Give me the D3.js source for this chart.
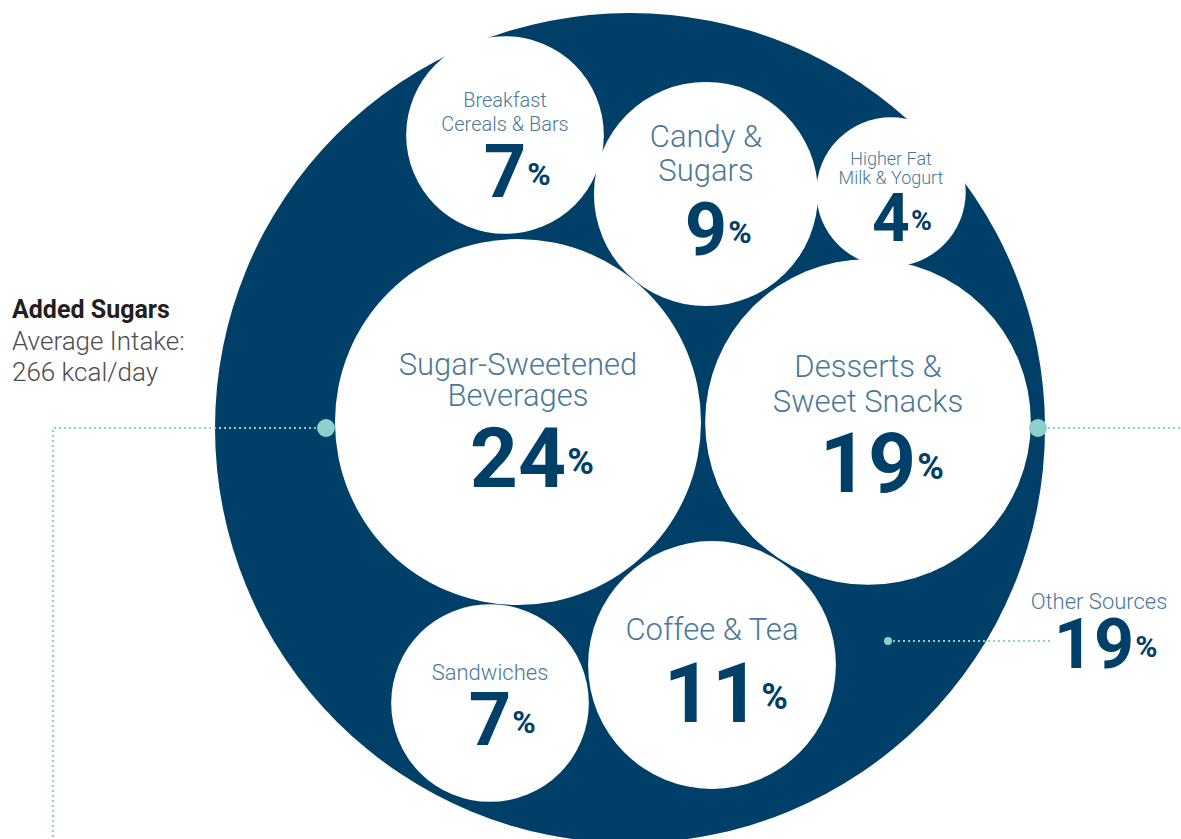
<!DOCTYPE html>
<html>
<head>
<meta charset="utf-8">
<script src="https://cdn.jsdelivr.net/npm/d3@7"></script>
<style>
  body { margin: 0; background: #fff; }
  text { font-family: Roboto, "Noto Sans", sans-serif; }
</style>
</head>
<body>
<svg></svg>
<script>
var categories = ['Sugar-Sweetened\nBeverages', 'Desserts &\nSweet Snacks', 'Coffee & Tea',
    'Candy &\nSugars', 'Breakfast\nCereals & Bars', 'Sandwiches', 'Higher Fat\nMilk & Yogurt'];
var shares = [24, 19, 11, 9, 7, 7, 4];
var otherShare = 19;
var intakeKcal = 266;

// hand placed bubble layout + text placement per bubble
var centers = [[518, 422], [868, 422], [712, 665], [706, 194], [505, 135], [490, 703], [891, 192]];
var labelSizes = [31, 31, 31, 31, 20, 22, 18];
var lineGaps = [31, 35, 0, 34, 24, 0, 19];
var labelDy = [-47, -45, -25, -47, -28, -23, -27];
var numSizes = [84, 84, 84, 74, 74, 74, 66];
var numDy = [65, 70, 57, 61, 62, 42, 49];

var W = 1181, H = 839;
var navy = '#004068', labelCol = '#4b7899', teal = '#8ecfcb';

var svg = d3.select('svg')
    .attr('width', W)
    .attr('height', H);

var r = d3.scaleSqrt().domain([0, 24]).range([0, 183]);

// big circle
svg.append('circle')
    .attr('cx', 630)
    .attr('cy', 428)
    .attr('r', 415)
    .attr('fill', navy);

svg.selectAll('circle.bubble')
    .data(shares)
    .enter().append('circle')
    .classed('bubble', true)
    .attr('cx', function(d, i) { return centers[i][0]; })
    .attr('cy', function(d, i) { return centers[i][1]; })
    .attr('r', function(d) { return r(d); })
    .attr('fill', '#fff');

// dotted leader lines
var dotted = function(pts) {
    svg.append('path')
        .attr('d', d3.line()(pts))
        .attr('fill', 'none')
        .attr('stroke', teal)
        .attr('stroke-width', 2)
        .attr('stroke-dasharray', '2,3');
};
dotted([[326, 428], [53, 428], [53, H]]);
dotted([[1038, 428], [W, 428]]);
dotted([[888, 641], [1050, 641]]);

svg.append('circle').attr('cx', 326).attr('cy', 428).attr('r', 9).attr('fill', teal);
svg.append('circle').attr('cx', 1038).attr('cy', 428).attr('r', 9).attr('fill', teal);
svg.append('circle').attr('cx', 888).attr('cy', 641).attr('r', 4).attr('fill', teal);

// number with a small raised % sign
function percent(x, y, value, size) {
    var num = svg.append('text')
        .text(value)
        .attr('x', x)
        .attr('y', y)
        .attr('text-anchor', 'middle')
        .attr('font-size', size)
        .attr('font-weight', 700)
        .attr('fill', navy);
    var w = num.node().getComputedTextLength();
    svg.append('text')
        .text('%')
        .attr('x', x + w / 2 + 1)
        .attr('y', y - size * 0.16)
        .attr('font-size', size * 0.43)
        .attr('font-weight', 700)
        .attr('fill', navy);
}

shares.forEach(function(v, i) {
    var lines = categories[i].split('\n');
    var cx = centers[i][0], cy = centers[i][1];
    lines.forEach(function(l, j) {
        svg.append('text')
            .text(l)
            .attr('x', cx)
            .attr('y', cy + labelDy[i] + j * lineGaps[i])
            .attr('text-anchor', 'middle')
            .attr('font-size', labelSizes[i])
            .attr('font-weight', 300)
            .attr('fill', labelCol);
    });
    percent(cx, cy + numDy[i], v, numSizes[i]);
});

// other sources
svg.append('text')
    .text('Other Sources')
    .attr('x', 1099)
    .attr('y', 609)
    .attr('text-anchor', 'middle')
    .attr('font-size', 22)
    .attr('font-weight', 300)
    .attr('fill', labelCol);
percent(1094, 668, otherShare, 70);

// heading on the left
svg.append('text')
    .text('Added Sugars')
    .attr('x', 12)
    .attr('y', 318)
    .attr('font-size', 25)
    .attr('font-weight', 700)
    .attr('fill', '#231f20');
svg.append('text')
    .text('Average Intake:')
    .attr('x', 12)
    .attr('y', 350)
    .attr('font-size', 26)
    .attr('font-weight', 300)
    .attr('fill', '#4d4d4d');
svg.append('text')
    .text(intakeKcal + ' kcal/day')
    .attr('x', 12)
    .attr('y', 381)
    .attr('font-size', 26)
    .attr('font-weight', 300)
    .attr('fill', '#4d4d4d');
</script>
</body>
</html>
